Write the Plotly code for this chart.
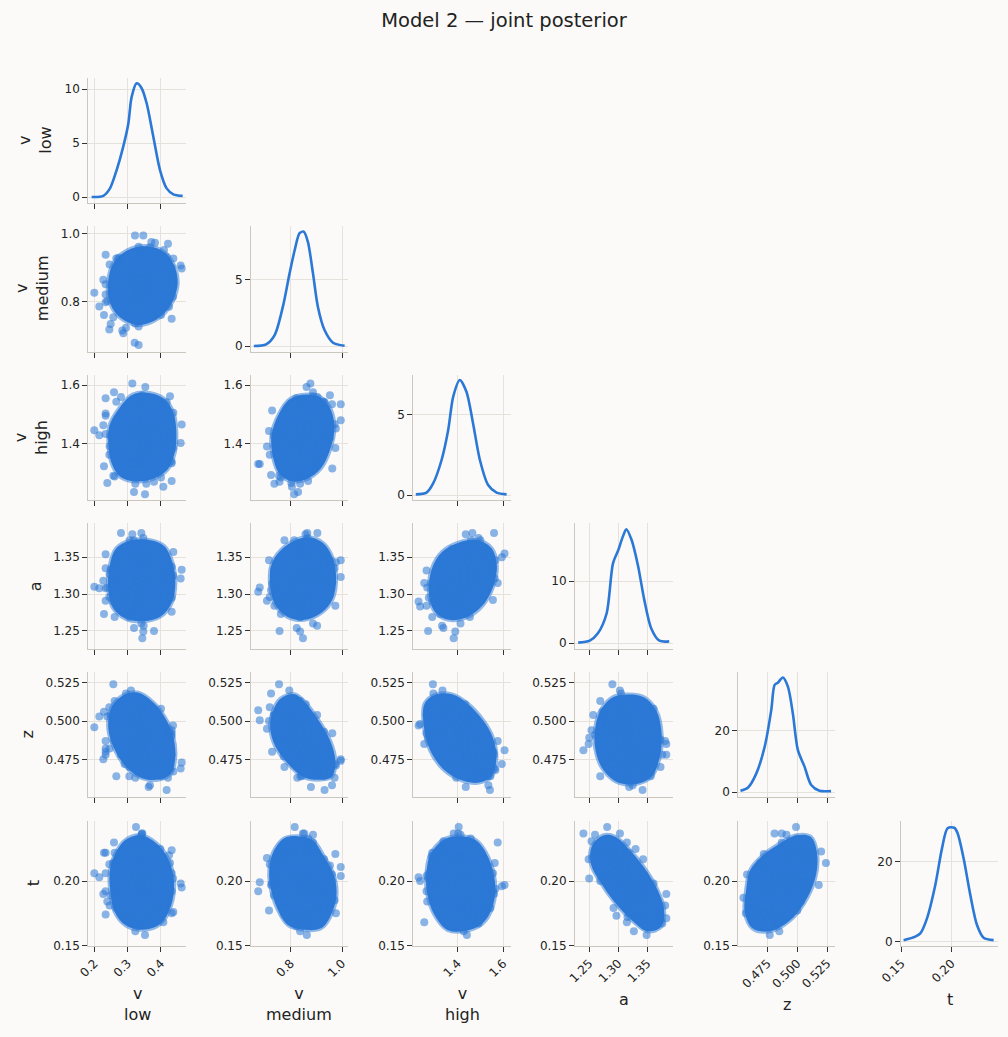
import plotly.graph_objects as go

# posterior draws that sit on the fringe of the clouds (incl. the stray outliers)
draws_v_low = [0.200, 0.462, 0.333, 0.322, 0.352, 0.314, 0.344, 0.341, 0.310, 0.363, 0.325, 0.352, 0.424, 0.246,
               0.409, 0.249, 0.401, 0.261, 0.367, 0.295, 0.432, 0.234, 0.379, 0.280, 0.348, 0.306, 0.417, 0.257,
               0.390, 0.272, 0.333, 0.356, 0.227, 0.436, 0.371, 0.287, 0.341, 0.318, 0.398, 0.291,
               0.459, 0.215, 0.347, 0.321, 0.353, 0.319, 0.314, 0.347, 0.343, 0.323, 0.343, 0.323, 0.421, 0.245,
               0.432, 0.234, 0.427, 0.239, 0.432, 0.234, 0.343, 0.323, 0.333, 0.333, 0.347, 0.319, 0.361, 0.305,
               0.333, 0.333, 0.432, 0.234, 0.400, 0.266, 0.437, 0.229, 0.382, 0.284, 0.259, 0.407]
draws_v_medium = [0.827, 0.898, 0.674, 0.995, 0.814, 0.877, 0.848, 0.865, 0.795, 0.879, 0.816, 0.863, 0.786, 0.910,
                  0.953, 0.735, 0.843, 0.837, 0.961, 0.724, 0.900, 0.799, 0.757, 0.904, 0.903, 0.776, 0.932, 0.755,
                  0.773, 0.930, 0.845, 0.837, 0.865, 0.815, 0.976, 0.708, 0.887, 0.814, 0.860, 0.858,
                  0.907, 0.787, 0.995, 0.680, 0.862, 0.829, 0.858, 0.837, 0.859, 0.826, 0.853, 0.837, 0.971, 0.719,
                  0.751, 0.939, 0.887, 0.803, 0.868, 0.822, 0.953, 0.737, 0.962, 0.728, 0.866, 0.824, 0.852, 0.838,
                  0.868, 0.822, 0.838, 0.852, 0.762, 0.928, 0.928, 0.762, 0.974, 0.716, 0.887, 0.805]
draws_v_high = [1.447, 1.466, 1.332, 1.535, 1.229, 1.606, 1.383, 1.465, 1.334, 1.436, 1.405, 1.441, 1.402, 1.392,
                1.420, 1.426, 1.533, 1.289, 1.535, 1.294, 1.340, 1.504, 1.271, 1.560, 1.332, 1.500, 1.542, 1.292,
                1.444, 1.407, 1.555, 1.264, 1.464, 1.385, 1.453, 1.391, 1.413, 1.459, 1.464, 1.353,
                1.403, 1.430, 1.481, 1.332, 1.594, 1.236, 1.436, 1.390, 1.433, 1.394, 1.403, 1.427, 1.467, 1.363,
                1.396, 1.434, 1.563, 1.267, 1.274, 1.556, 1.566, 1.264, 1.316, 1.514, 1.492, 1.338, 1.376, 1.454,
                1.458, 1.372, 1.334, 1.496, 1.286, 1.544, 1.506, 1.324, 1.386, 1.444, 1.576, 1.254]
draws_a = [1.310, 1.333, 1.303, 1.346, 1.290, 1.355, 1.240, 1.383, 1.303, 1.319, 1.281, 1.349, 1.296, 1.327,
           1.299, 1.333, 1.356, 1.269, 1.325, 1.305, 1.337, 1.291, 1.250, 1.383, 1.257, 1.373, 1.342, 1.290,
           1.292, 1.343, 1.292, 1.332, 1.318, 1.325, 1.343, 1.291, 1.260, 1.373, 1.330, 1.297,
           1.321, 1.308, 1.323, 1.309, 1.350, 1.283, 1.381, 1.249, 1.318, 1.316, 1.303, 1.327, 1.335, 1.296,
           1.322, 1.308, 1.321, 1.309, 1.295, 1.335, 1.346, 1.284, 1.316, 1.314, 1.376, 1.254, 1.361, 1.269,
           1.284, 1.346, 1.276, 1.354, 1.315, 1.315, 1.357, 1.273, 1.284, 1.346, 1.315, 1.315]
draws_z = [0.496, 0.473, 0.507, 0.475, 0.497, 0.481, 0.481, 0.485, 0.520, 0.457, 0.499, 0.477, 0.492, 0.482,
           0.473, 0.504, 0.464, 0.513, 0.458, 0.518, 0.478, 0.487, 0.489, 0.478, 0.504, 0.470, 0.455, 0.524,
           0.477, 0.493, 0.480, 0.492, 0.475, 0.497, 0.471, 0.495, 0.491, 0.488, 0.497, 0.472,
           0.469, 0.503, 0.474, 0.5005, 0.472, 0.498, 0.487, 0.485, 0.511, 0.463, 0.487, 0.485, 0.463, 0.509,
           0.490, 0.482, 0.469, 0.503, 0.492, 0.480, 0.468, 0.504, 0.492, 0.480, 0.478, 0.494, 0.508, 0.464,
           0.500, 0.472, 0.494, 0.478, 0.508, 0.464, 0.467, 0.506, 0.472, 0.500, 0.487, 0.485]
draws_t = [0.206, 0.195, 0.192, 0.204, 0.203, 0.197, 0.237, 0.171, 0.223, 0.175, 0.242, 0.158, 0.220, 0.181,
           0.212, 0.189, 0.182, 0.222, 0.205, 0.197, 0.175, 0.222, 0.202, 0.190, 0.219, 0.174, 0.187, 0.214,
           0.179, 0.217, 0.206, 0.192, 0.190, 0.202, 0.175, 0.218, 0.236, 0.170, 0.225, 0.173,
           0.198, 0.203, 0.211, 0.199, 0.196, 0.200, 0.181, 0.217, 0.222, 0.172, 0.237, 0.161, 0.185, 0.213,
           0.192, 0.206, 0.214, 0.184, 0.206, 0.192, 0.194, 0.204, 0.200, 0.198, 0.167, 0.231, 0.198, 0.200,
           0.233, 0.165, 0.224, 0.174, 0.219, 0.179, 0.176, 0.222, 0.221, 0.177, 0.230, 0.168]

# outline of the solid (overplotted) core of every pairwise cloud: x = column parameter, y = row parameter
cloud_vmed_vlow_x = [0.279, 0.324, 0.378, 0.414, 0.441, 0.450, 0.437, 0.414, 0.378, 0.333, 0.293, 0.261, 0.242, 0.242, 0.254]
cloud_vmed_vlow_y = [0.939, 0.961, 0.961, 0.943, 0.904, 0.855, 0.806, 0.771, 0.744, 0.732, 0.744, 0.771, 0.815, 0.864, 0.908]
cloud_vhigh_vlow_x = [0.275, 0.315, 0.369, 0.410, 0.437, 0.446, 0.441, 0.419, 0.378, 0.324, 0.279, 0.254, 0.243, 0.245]
cloud_vhigh_vlow_y = [1.522, 1.568, 1.573, 1.553, 1.507, 1.440, 1.369, 1.312, 1.282, 1.272, 1.287, 1.328, 1.389, 1.461]
cloud_vhigh_vmed_x = [0.754, 0.796, 0.854, 0.918, 0.957, 0.970, 0.953, 0.918, 0.865, 0.808, 0.758, 0.731, 0.726]
cloud_vhigh_vmed_y = [1.501, 1.552, 1.568, 1.558, 1.516, 1.450, 1.379, 1.317, 1.281, 1.272, 1.297, 1.358, 1.430]
cloud_a_vlow_x = [0.266, 0.312, 0.368, 0.410, 0.435, 0.443, 0.433, 0.400, 0.343, 0.292, 0.256, 0.242, 0.246]
cloud_a_vlow_y = [1.362, 1.373, 1.373, 1.365, 1.342, 1.314, 1.289, 1.270, 1.263, 1.267, 1.281, 1.305, 1.338]
cloud_a_vmed_x = [0.748, 0.801, 0.868, 0.927, 0.961, 0.977, 0.963, 0.921, 0.854, 0.788, 0.741, 0.721, 0.724]
cloud_a_vmed_y = [1.354, 1.370, 1.377, 1.369, 1.351, 1.322, 1.293, 1.275, 1.265, 1.269, 1.285, 1.310, 1.338]
cloud_a_vhigh_x = [1.287, 1.332, 1.407, 1.489, 1.549, 1.572, 1.556, 1.511, 1.444, 1.362, 1.303, 1.276]
cloud_a_vhigh_y = [1.334, 1.357, 1.370, 1.373, 1.362, 1.338, 1.310, 1.285, 1.269, 1.265, 1.275, 1.297]
cloud_z_vlow_x = [0.251, 0.286, 0.332, 0.379, 0.410, 0.435, 0.443, 0.430, 0.394, 0.343, 0.297, 0.261, 0.242]
cloud_z_vlow_y = [0.5087, 0.5167, 0.5185, 0.5117, 0.5029, 0.4912, 0.4774, 0.4657, 0.4618, 0.4627, 0.4697, 0.4814, 0.4951]
cloud_z_vmed_x = [0.728, 0.761, 0.815, 0.854, 0.907, 0.954, 0.974, 0.960, 0.907, 0.848, 0.788, 0.741, 0.721]
cloud_z_vmed_y = [0.5048, 0.5146, 0.5175, 0.5126, 0.5009, 0.4872, 0.4735, 0.4637, 0.4617, 0.4637, 0.4725, 0.4833, 0.4950]
cloud_z_vhigh_x = [1.256, 1.308, 1.376, 1.443, 1.510, 1.555, 1.570, 1.548, 1.488, 1.413, 1.338, 1.279, 1.252]
cloud_z_vhigh_y = [0.5115, 0.5174, 0.5174, 0.5115, 0.5008, 0.4890, 0.4754, 0.4636, 0.4597, 0.4616, 0.4685, 0.4812, 0.4969]
cloud_z_a_x = [1.269, 1.290, 1.316, 1.345, 1.366, 1.375, 1.371, 1.357, 1.328, 1.296, 1.272, 1.260, 1.261]
cloud_z_a_y = [0.5066, 0.5154, 0.5173, 0.5154, 0.5066, 0.4910, 0.4753, 0.4635, 0.4587, 0.4606, 0.4695, 0.4831, 0.4968]
cloud_t_vlow_x = [0.261, 0.294, 0.339, 0.384, 0.420, 0.439, 0.430, 0.399, 0.346, 0.294, 0.261, 0.247, 0.247]
cloud_t_vlow_y = [0.2204, 0.2321, 0.2356, 0.2298, 0.2181, 0.1994, 0.1808, 0.1668, 0.1621, 0.1656, 0.1761, 0.1948, 0.2088]
cloud_t_vmed_x = [0.733, 0.775, 0.826, 0.884, 0.926, 0.969, 0.978, 0.952, 0.918, 0.851, 0.791, 0.749, 0.720, 0.718]
cloud_t_vmed_y = [0.2227, 0.2332, 0.2349, 0.2321, 0.2204, 0.2041, 0.1877, 0.1714, 0.1632, 0.1621, 0.1656, 0.1783, 0.1971, 0.2110]
cloud_t_vhigh_x = [1.280, 1.337, 1.403, 1.479, 1.536, 1.564, 1.555, 1.508, 1.432, 1.356, 1.299, 1.265, 1.265]
cloud_t_vhigh_y = [0.2203, 0.2320, 0.2349, 0.2320, 0.2180, 0.1993, 0.1807, 0.1667, 0.1611, 0.1620, 0.1737, 0.1923, 0.2087]
cloud_t_a_x = [1.255, 1.274, 1.295, 1.318, 1.344, 1.366, 1.379, 1.374, 1.351, 1.325, 1.295, 1.269, 1.253]
cloud_t_a_y = [0.2274, 0.2355, 0.2344, 0.2250, 0.2110, 0.1947, 0.1783, 0.1644, 0.1609, 0.1690, 0.1830, 0.1994, 0.2133]
cloud_t_z_x = [0.4572, 0.4608, 0.4716, 0.4842, 0.4987, 0.5113, 0.5167, 0.5149, 0.5059, 0.4933, 0.4770, 0.4626, 0.4561]
cloud_t_z_y = [0.1924, 0.2087, 0.2203, 0.2285, 0.2355, 0.2344, 0.2203, 0.2017, 0.1830, 0.1690, 0.1609, 0.1632, 0.1761]

# marginal density curves on the diagonal
kde_v_low_x = [0.192, 0.227, 0.247, 0.267, 0.287, 0.302, 0.312, 0.327, 0.342, 0.357, 0.377, 0.397, 0.417, 0.437, 0.465]
kde_v_low_y = [0.0, 0.1, 0.8, 2.5, 4.7, 6.8, 9.3, 10.55, 10.1, 8.7, 5.6, 2.5, 0.8, 0.25, 0.1]
kde_v_medium_x = [0.657, 0.705, 0.738, 0.770, 0.796, 0.816, 0.835, 0.851, 0.867, 0.887, 0.906, 0.932, 0.965, 1.010]
kde_v_medium_y = [0.0, 0.13, 0.83, 2.98, 5.5, 7.27, 8.54, 8.66, 7.9, 5.5, 2.98, 1.21, 0.25, 0.02]
kde_v_high_x = [1.217, 1.264, 1.293, 1.330, 1.359, 1.381, 1.410, 1.439, 1.468, 1.498, 1.534, 1.571, 1.615]
kde_v_high_y = [0.04, 0.15, 0.72, 2.17, 4.03, 6.1, 7.13, 6.4, 4.44, 2.17, 0.62, 0.15, 0.04]
kde_a_x = [1.231, 1.251, 1.265, 1.280, 1.291, 1.300, 1.308, 1.314, 1.323, 1.334, 1.345, 1.357, 1.371, 1.388]
kde_a_y = [0.1, 0.42, 1.6, 4.8, 12.9, 15.0, 17.2, 18.4, 16.7, 12.6, 7.0, 2.4, 0.42, 0.3]
kde_z_x = [0.4525, 0.4589, 0.4658, 0.4728, 0.4783, 0.4811, 0.4838, 0.4880, 0.4922, 0.4963, 0.5005, 0.5061,
           0.5117, 0.5186, 0.5283]
kde_z_y = [0.4, 1.5, 6.1, 14.9, 26.9, 35.1, 35.8, 37.5, 34.5, 25.8, 13.8, 8.3, 2.3, 0.4, 0.3]
kde_t_x = [0.1523, 0.1640, 0.1690, 0.1757, 0.1840, 0.1907, 0.1963, 0.2030, 0.2063, 0.2123, 0.2190, 0.2257,
           0.2323, 0.2423]
kde_t_y = [0.3, 1.2, 2.0, 5.8, 14.2, 23.4, 28.5, 28.6, 27.2, 20.9, 11.7, 4.1, 0.9, 0.3]

labels = ["v<br>low", "v<br>medium", "v<br>high", "a", "z", "t"]
tick_vals = [[0.2, 0.3, 0.4], [0.8, 1.0], [1.4, 1.6], [1.25, 1.30, 1.35], [0.475, 0.500, 0.525], [0.15, 0.20]]
tick_text = [["0.2", "0.3", "0.4"], ["0.8", "1.0"], ["1.4", "1.6"], ["1.25", "1.30", "1.35"],
             ["0.475", "0.500", "0.525"], ["0.15", "0.20"]]
density_ticks = [[0, 5, 10], [0, 5], [0, 5], [0, 10], [0, 20], [0, 20]]

draws = [draws_v_low, draws_v_medium, draws_v_high, draws_a, draws_z, draws_t]
kde = [(kde_v_low_x, kde_v_low_y), (kde_v_medium_x, kde_v_medium_y), (kde_v_high_x, kde_v_high_y),
       (kde_a_x, kde_a_y), (kde_z_x, kde_z_y), (kde_t_x, kde_t_y)]
clouds = {
    (1, 0): (cloud_vmed_vlow_x, cloud_vmed_vlow_y),
    (2, 0): (cloud_vhigh_vlow_x, cloud_vhigh_vlow_y),
    (2, 1): (cloud_vhigh_vmed_x, cloud_vhigh_vmed_y),
    (3, 0): (cloud_a_vlow_x, cloud_a_vlow_y),
    (3, 1): (cloud_a_vmed_x, cloud_a_vmed_y),
    (3, 2): (cloud_a_vhigh_x, cloud_a_vhigh_y),
    (4, 0): (cloud_z_vlow_x, cloud_z_vlow_y),
    (4, 1): (cloud_z_vmed_x, cloud_z_vmed_y),
    (4, 2): (cloud_z_vhigh_x, cloud_z_vhigh_y),
    (4, 3): (cloud_z_a_x, cloud_z_a_y),
    (5, 0): (cloud_t_vlow_x, cloud_t_vlow_y),
    (5, 1): (cloud_t_vmed_x, cloud_t_vmed_y),
    (5, 2): (cloud_t_vhigh_x, cloud_t_vhigh_y),
    (5, 3): (cloud_t_a_x, cloud_t_a_y),
    (5, 4): (cloud_t_z_x, cloud_t_z_y),
}

W, H = 1008, 1037
BLUE = "#2b78d6"
BLUE_SOFT = "rgba(43,120,214,0.5)"
BG = "#fbfaf8"
SPINE = "#cbc7bf"
GRID = "#e5e2db"
TEXT = "#222222"

# panel edges in pixels: (left, right) per column, (top, bottom) per row
col_px = [(88.3, 186.0), (251.0, 347.7), (413.3, 510.7), (575.0, 672.7), (738.3, 835.0), (901.0, 998.3)]
row_px = [(78.3, 203.3), (225.7, 351.7), (375.0, 500.0), (523.3, 649.3), (672.3, 796.7), (821.0, 945.7)]

x_ranges = [[0.182, 0.475], [0.646, 1.022], [1.206, 1.633], [1.2255, 1.394], [0.4507, 0.5316], [0.1497, 0.247]]
y_ranges = [[0.182, 0.475], [0.654, 1.024], [1.209, 1.635], [1.225, 1.396], [0.4506, 0.5318], [0.1497, 0.2467]]
density_ranges = [[-0.585, 11.02], [-0.43, 9.11], [-0.31, 7.44], [-0.97, 19.35], [-1.54, 39.2], [-1.1, 30.3]]

fig = go.Figure()
axis_style = dict(showline=True, linecolor=SPINE, linewidth=1, showgrid=True, gridcolor=GRID, gridwidth=1,
                  zeroline=False, ticks="outside", ticklen=5, tickwidth=1, tickcolor="#333333",
                  tickfont=dict(family="DejaVu Sans", size=12, color=TEXT), fixedrange=True,
                  automargin=False, layer="below traces")

n = 0
for i in range(6):
    for j in range(i + 1):
        n += 1
        xa = "x" if n == 1 else "x%d" % n
        ya = "y" if n == 1 else "y%d" % n
        if i == j:
            fig.add_trace(go.Scatter(x=kde[i][0], y=kde[i][1], mode="lines",
                                     line=dict(color=BLUE, width=2.6, shape="spline", smoothing=0.8),
                                     xaxis=xa, yaxis=ya, hoverinfo="skip"))
            yr, yv, yt = density_ranges[i], density_ticks[i], [str(v) for v in density_ticks[i]]
        else:
            cx, cy = clouds[(i, j)]
            fig.add_trace(go.Scatter(x=cx + cx[:1], y=cy + cy[:1], mode="lines", fill="toself",
                                     fillcolor=BLUE, line=dict(color=BLUE_SOFT, width=4, shape="spline"),
                                     xaxis=xa, yaxis=ya, hoverinfo="skip"))
            fig.add_trace(go.Scatter(x=draws[j], y=draws[i], mode="markers",
                                     marker=dict(color=BLUE, size=8, opacity=0.55, line=dict(width=0)),
                                     xaxis=xa, yaxis=ya))
            yr, yv, yt = y_ranges[i], tick_vals[i], tick_text[i]

        l, r = col_px[j]
        t, b = row_px[i]
        xkey = "xaxis" if n == 1 else "xaxis%d" % n
        ykey = "yaxis" if n == 1 else "yaxis%d" % n
        fig.layout[xkey] = dict(axis_style, domain=[l / W, r / W], anchor=ya, range=x_ranges[j],
                                tickvals=tick_vals[j], ticktext=tick_text[j],
                                showticklabels=(i == 5), tickangle=-45)
        fig.layout[ykey] = dict(axis_style, domain=[1 - b / H, 1 - t / H], anchor=xa, range=yr,
                                tickvals=yv, ticktext=yt)

annotations = []
row_label_x = [35, 31.5, 30.5, 35, 27, 33]
for i in range(6):
    t, b = row_px[i]
    annotations.append(dict(text=labels[i], x=row_label_x[i] / W, y=1 - (t + b) / 2 / H, xref="paper",
                            yref="paper", showarrow=False, textangle=-90, xanchor="center", yanchor="middle",
                            font=dict(family="DejaVu Sans", size=16, color=TEXT)))
col_label_y = [1004, 1004, 1004, 999, 1004, 999]
for j in range(6):
    l, r = col_px[j]
    annotations.append(dict(text=labels[j], x=(l + r) / 2 / W, y=1 - col_label_y[j] / H, xref="paper",
                            yref="paper", showarrow=False, xanchor="center", yanchor="middle",
                            font=dict(family="DejaVu Sans", size=16, color=TEXT)))

fig.update_layout(
    width=W, height=H, autosize=False,
    margin=dict(l=0, r=0, t=0, b=0, autoexpand=False),
    paper_bgcolor=BG, plot_bgcolor=BG,
    showlegend=False,
    title=dict(text="Model 2 \u2014 joint posterior", x=0.5, xanchor="center", y=1 - 20 / H, yanchor="middle",
               font=dict(family="DejaVu Sans", size=19.5, color=TEXT)),
    annotations=annotations,
)

fig.write_html("out.html", config={"displayModeBar": False},
               post_script="document.body.style.margin='0';document.body.style.background='%s';" % BG)
